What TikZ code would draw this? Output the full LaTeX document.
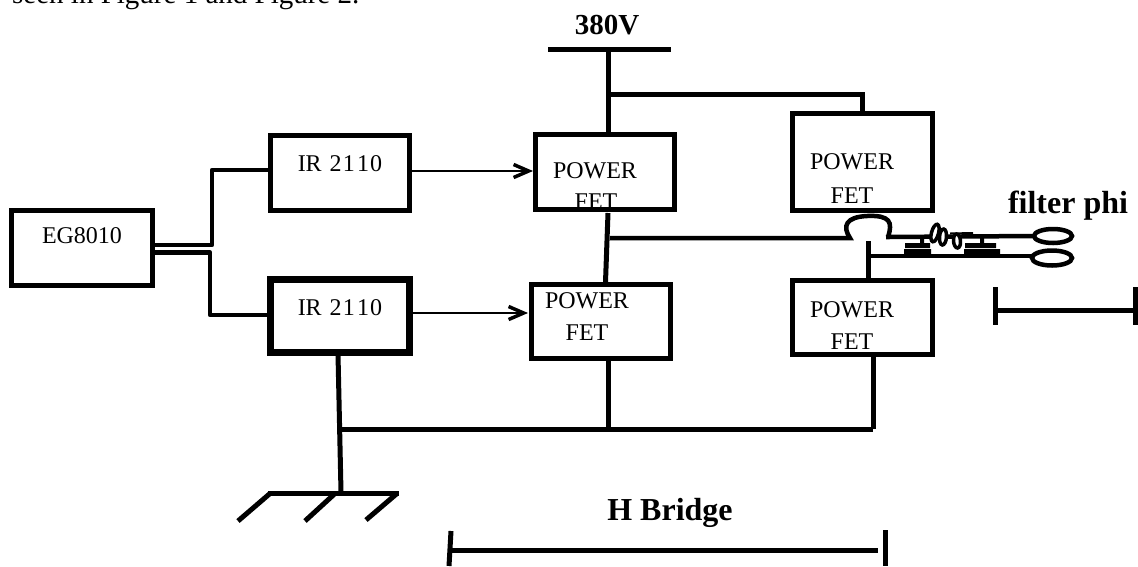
\documentclass[tikz,border=0pt]{standalone}
\usepackage{fontspec}
\setmainfont{Liberation Serif}
\usetikzlibrary{arrows.meta,shapes.geometric}
\tikzset{
  box/.style={draw=black,line width=5pt,fill=white,inner sep=0pt,minimum width=#1},
  wire/.style={draw=black,line width=5pt},
  lbl/.style={inner sep=0pt,font=\fontsize{24}{28}\selectfont},
  blbl/.style={inner sep=0pt,font=\fontsize{29}{34}\bfseries\selectfont},
  blbg/.style={inner sep=0pt,font=\fontsize{32}{38}\bfseries\selectfont},
  sig/.style={draw=black,line width=2.5pt,-{Straight Barb[length=15pt,width=13pt,line width=3.5pt]}},
  ring/.style={draw=black,line width=4.5pt,fill=white,ellipse},
  cplate/.style={fill=black,draw=none}
}
\newcommand{\irtext}{IR\kern2pt{} 2\kern1pt 1\kern2.5pt 1\kern1pt 0}
\begin{document}
\begin{tikzpicture}[x=1pt,y=-1pt]
\useasboundingbox (0,0) rectangle (1138,566);
% boxes (positions are centre lines)
\node[box=141pt,minimum height=75pt] (eg) at (82,247.5) {};
\node[box=139pt,minimum height=75pt] (irt) at (340,173) {};
\node[box=139pt,minimum height=73pt,line width=7pt] (irb) at (340,315.5) {};
\node[box=139pt,minimum height=75pt] (fa) at (605,172) {};
\node[box=139pt,minimum height=74pt] (fb) at (600.5,321) {};
\node[box=140pt,minimum height=97pt] (fc) at (862.5,162) {};
\node[box=140pt,minimum height=74pt] (fd) at (862.5,317.5) {};
% labels
\node[lbl] (teg) at (82,236) {EG8010};
\node[lbl] (tirt) at (340,164) {\irtext};
\node[lbl] (tirb) at (340,308) {\irtext};
\node[lbl] (tfa1) at (595,171) {POWER};
\node[lbl] (tfa2) at (596,202) {FET};
\node[lbl] (tfb1) at (587,301) {POWER};
\node[lbl] (tfb2) at (587,333) {FET};
\node[lbl] (tfc1) at (852,162) {POWER};
\node[lbl] (tfc2) at (852,196) {FET};
\node[lbl] (tfd1) at (852,310) {POWER};
\node[lbl] (tfd2) at (852,342) {FET};
\node[blbl] (t380) at (607,25) {380V};
\node[blbg] (tfil) at (1068,206) {filter phi};
\node[blbg] (thb) at (670,513) {H Bridge};
\node[anchor=base west,inner sep=0pt,font=\fontsize{29}{34}\selectfont] (thead) at (12,3) {seen in Figure 1 and Figure 2.};
% coordinates
\coordinate (vl) at (548,49); \coordinate (vr) at (671,49); \coordinate (vm) at (608,49);
\coordinate (vj) at (608,94); \coordinate (vk) at (862,94);
\coordinate (ega) at (155,245); \coordinate (egb) at (155,252.5);
\coordinate (m1) at (212,245); \coordinate (m2) at (212,170); \coordinate (m3) at (268,170);
\coordinate (n1) at (210,252.5); \coordinate (n2) at (210,315); \coordinate (n3) at (268,315);
% supply
\draw[wire] (vl) -- (vr);
\draw[wire] (vm) -- (fa.north -| vm);
\draw[wire] (vj) -- (vk) -- (fc.north -| vk);
% controller
\draw[wire,line width=4.5pt,line join=round] (ega) -- (m1) -- (m2) -- (m3);
\draw[wire,line width=4.5pt,line join=round] (egb) -- (n1) -- (n2) -- (n3);
% signals
\coordinate (sa1) at (412,171); \coordinate (sa2) at (533,171);
\coordinate (sb1) at (407,313); \coordinate (sb2) at (528,313);
\draw[sig] (sa1) -- (sa2);
\draw[sig] (sb1) -- (sb2);
% bridge mid
\coordinate (fab) at (608,213); \coordinate (fbt) at (605.5,282);
\draw[wire] (fab) -- (fbt);
\coordinate (h0) at (610,238); \coordinate (h1) at (850,238);
\coordinate (h2) at (886,237); \coordinate (h3) at (1035,236);
\draw[wire,line width=4.5pt] (h0) -- (h1) .. controls (842,226) and (846,217) .. (867,216) .. controls (890,215) and (893,222) .. (888,237) -- (h2) -- (h3);
\coordinate (j1) at (868,241); \coordinate (j3) at (1032,256); \coordinate (j4) at (866,256);
\draw[wire] (j1) -- (fd.north -| j1);
\draw[wire,line width=4.5pt] (j4) -- (j3);
% filter
\node[ring,minimum width=38pt,minimum height=14pt,inner sep=0pt] (ea) at (1053,236) {};
\node[ring,minimum width=40pt,minimum height=15pt,inner sep=0pt] (eb) at (1052,258) {};
\fill[cplate] (920,237) rectangle (924,243) (980,237) rectangle (984,243);
\fill[cplate] (905,243) rectangle (930,248) (904,249) rectangle (931,255);
\fill[cplate] (965,243) rectangle (996,248) (964,249) rectangle (1000,255);
\draw[line width=2pt] (950,233.5) -- (973,233);
\draw[line width=3.5pt,fill=white] (935,233) ellipse [x radius=3.5,y radius=9,rotate=-15];
\draw[line width=3.5pt,fill=white] (943,237) ellipse [x radius=3.5,y radius=8,rotate=-5];
\draw[line width=3.5pt,fill=white] (957,241) ellipse [x radius=3.5,y radius=7,rotate=5];
% ground
\coordinate (g0) at (341,492); \coordinate (gj) at (341,429);
\coordinate (gr) at (873,429); \coordinate (gm) at (608,429); \coordinate (gt) at (338,354);
\draw[wire] (gt) -- (g0);
\draw[wire] (gj) -- (gr);
\draw[wire] (fb.south -| gm) -- (gm);
\draw[wire] (fd.south -| gr) -- (gr);
\coordinate (gb1) at (268,493.5); \coordinate (gb2) at (399,493.5);
\draw[wire] (gb1) -- (gb2);
\coordinate (ga) at (335,493.5); \coordinate (gc) at (305,521);
\coordinate (gd) at (238,521); \coordinate (ge) at (366,520);
\draw[wire] (270,493.5) -- (gd);
\draw[wire] (ga) -- (gc);
\draw[wire] (397,493.5) -- (ge);
% dimension lines
\coordinate (ha) at (452,550.5); \coordinate (hb) at (878,550.5);
\draw[wire] (ha) -- (hb);
\draw[wire] (451,531) -- (449,566);
\draw[wire] (885,530) -- (885,566);
\coordinate (ra) at (995,310); \coordinate (rb) at (1135,310);
\draw[wire] (ra) -- (rb);
\draw[wire] (995,287) -- (995,325);
\draw[wire] (1135,287) -- (1135,325);
\end{tikzpicture}
\end{document}
